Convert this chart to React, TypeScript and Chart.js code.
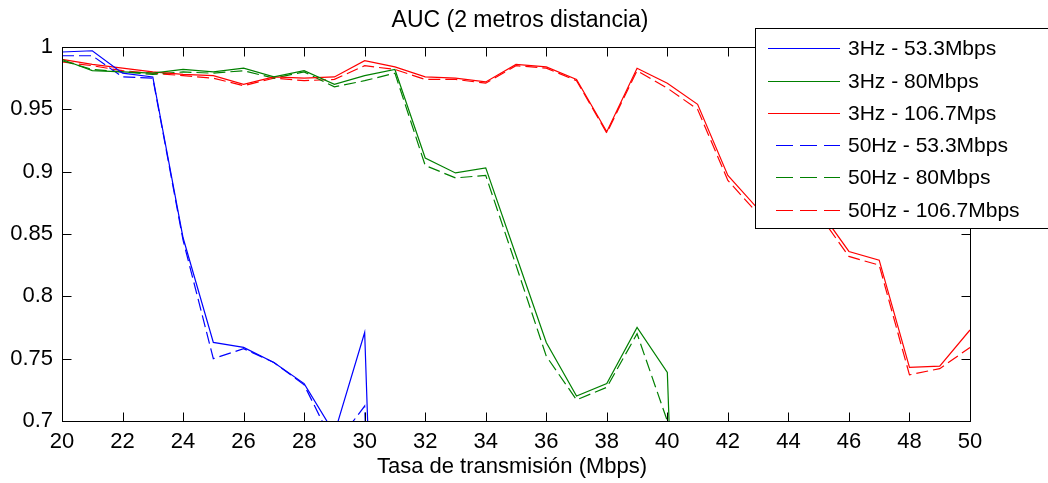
import React, { useEffect, useRef } from "react";
import { Chart, registerables } from "chart.js";

Chart.register(...registerables);

const titleText = "AUC (2 metros distancia)";
const xAxisTitle = "Tasa de transmisión (Mbps)";

const xValues = [20, 21, 22, 23, 24, 25, 26, 27, 28, 29, 30, 31, 32, 33, 34, 35, 36, 37, 38, 39, 40, 41, 42, 43, 44, 45, 46, 47, 48, 49, 50];

const xTickValues = [20, 22, 24, 26, 28, 30, 32, 34, 36, 38, 40, 42, 44, 46, 48, 50];
const xTickLabels = ["20", "22", "24", "26", "28", "30", "32", "34", "36", "38", "40", "42", "44", "46", "48", "50"];
const yTickValues = [0.7, 0.75, 0.8, 0.85, 0.9, 0.95, 1];
const yTickLabels = ["0.7", "0.75", "0.8", "0.85", "0.9", "0.95", "1"];

const seriesNames = [
  "3Hz - 53.3Mbps",
  "3Hz - 80Mbps",
  "3Hz - 106.7Mps",
  "50Hz - 53.3Mbps",
  "50Hz - 80Mbps",
  "50Hz - 106.7Mbps",
];

const blue3Hz = [0.996, 0.997, 0.979, 0.976, 0.847, 0.763, 0.759, 0.747, 0.730, 0.690, 0.771, 0.05, null, null, null, null, null, null, null, null, null, null, null, null, null, null, null, null, null, null, null];
const green3Hz = [0.990, 0.981, 0.980, 0.979, 0.982, 0.980, 0.983, 0.976, 0.981, 0.970, 0.977, 0.982, 0.911, 0.899, 0.903, 0.833, 0.763, 0.720, 0.730, 0.775, 0.739, 0.05, null, null, null, null, null, null, null, null, null];
const red3Hz = [0.990, 0.986, 0.983, 0.980, 0.978, 0.977, 0.970, 0.976, 0.975, 0.976, 0.989, 0.984, 0.976, 0.975, 0.972, 0.986, 0.984, 0.974, 0.932, 0.983, 0.971, 0.954, 0.897, 0.870, 0.862, 0.870, 0.836, 0.829, 0.743, 0.744, 0.773];
const blue50Hz = [0.993, 0.993, 0.976, 0.975, 0.845, 0.750, 0.758, 0.747, 0.729, 0.680, 0.712, 0.05, null, null, null, null, null, null, null, null, null, null, null, null, null, null, null, null, null, null, null];
const green50Hz = [0.989, 0.982, 0.980, 0.978, 0.980, 0.979, 0.981, 0.975, 0.980, 0.968, 0.973, 0.979, 0.905, 0.895, 0.897, 0.825, 0.752, 0.717, 0.727, 0.770, 0.700, 0.05, null, null, null, null, null, null, null, null, null];
const red50Hz = [0.988, 0.985, 0.981, 0.979, 0.977, 0.975, 0.969, 0.975, 0.973, 0.974, 0.985, 0.982, 0.974, 0.974, 0.971, 0.985, 0.983, 0.973, 0.931, 0.981, 0.967, 0.950, 0.893, 0.866, 0.858, 0.866, 0.832, 0.825, 0.737, 0.742, 0.759];

const seriesValues = [blue3Hz, green3Hz, red3Hz, blue50Hz, green50Hz, red50Hz];
const seriesColors = ["#0000ff", "#008000", "#ff0000", "#0000ff", "#008000", "#ff0000"];
const seriesDashed = [false, false, false, true, true, true];

const FONT = "'Liberation Sans', Arial, sans-serif";

const decorPlugin = {
  id: "decor",
  afterDraw(chart: any) {
    const { ctx, chartArea: a, scales } = chart;
    ctx.save();
    ctx.strokeStyle = "#000";
    ctx.lineWidth = 1;
    ctx.setLineDash([]);
    const L = Math.round(a.left) + 0.5;
    const R = Math.round(a.right) + 0.5;
    const T = Math.round(a.top) + 0.5;
    const B = Math.round(a.bottom) + 0.5;
    ctx.strokeRect(L, T, R - L, B - T);
    const tl = 9;
    ctx.beginPath();
    for (const v of xTickValues) {
      const px = Math.round(scales.x.getPixelForValue(v)) + 0.5;
      ctx.moveTo(px, B);
      ctx.lineTo(px, B - tl);
      ctx.moveTo(px, T);
      ctx.lineTo(px, T + tl);
    }
    for (const v of yTickValues) {
      const py = Math.round(scales.y.getPixelForValue(v)) + 0.5;
      ctx.moveTo(L, py);
      ctx.lineTo(L + tl, py);
      ctx.moveTo(R, py);
      ctx.lineTo(R - tl, py);
    }
    ctx.stroke();

    ctx.fillStyle = "#000";
    ctx.textAlign = "center";
    ctx.textBaseline = "middle";
    ctx.font = `23px ${FONT}`;
    ctx.fillText(titleText, (a.left + a.right) / 2 + 4, 21);
    ctx.font = `22px ${FONT}`;
    ctx.fillText(xAxisTitle, (a.left + a.right) / 2 - 4, 467);

    const lx = 755.5;
    const ly = 28.5;
    const lw = 320;
    const lh = 200;
    ctx.fillStyle = "#fff";
    ctx.fillRect(lx, ly, lw, lh);
    ctx.strokeStyle = "#000";
    ctx.lineWidth = 1;
    ctx.strokeRect(lx, ly, lw, lh);
    const rows = [48, 81, 113, 145, 177, 210];
    ctx.font = `21px ${FONT}`;
    ctx.textAlign = "left";
    ctx.textBaseline = "middle";
    seriesNames.forEach((name, i) => {
      const y = rows[i] + 0.5;
      ctx.strokeStyle = seriesColors[i];
      ctx.lineWidth = 1;
      ctx.beginPath();
      if (seriesDashed[i]) {
        ctx.setLineDash([17, 7]);
        ctx.moveTo(776, y);
      } else {
        ctx.setLineDash([]);
        ctx.moveTo(768, y);
      }
      ctx.lineTo(840, y);
      ctx.stroke();
      ctx.setLineDash([]);
      ctx.fillStyle = "#000";
      ctx.fillText(name, 848, rows[i] + 1);
    });
    ctx.restore();
  },
};

export default function App() {
  const canvasRef = useRef<HTMLCanvasElement | null>(null);

  useEffect(() => {
    const canvas = canvasRef.current;
    if (!canvas) return;
    const datasets = seriesNames.map((name, i) => ({
      label: name,
      data: xValues.map((x, j) => ({ x, y: seriesValues[i][j] })),
      borderColor: seriesColors[i],
      backgroundColor: seriesColors[i],
      borderWidth: 1.2,
      borderDash: seriesDashed[i] ? [12, 5] : [],
      pointRadius: 0,
      fill: false,
      tension: 0,
      spanGaps: false,
    }));
    const chart = new Chart(canvas, {
      type: "line",
      data: { datasets },
      options: {
        animation: false,
        responsive: false,
        maintainAspectRatio: false,
        layout: { padding: { top: 47, right: 78, left: 0, bottom: 0 } },
        plugins: {
          legend: { display: false },
          title: { display: false },
          tooltip: { enabled: false },
        },
        scales: {
          x: {
            type: "linear",
            min: 20,
            max: 50,
            grid: { display: false, drawTicks: false },
            border: { display: false },
            afterBuildTicks: (scale: any) => {
              scale.ticks = xTickValues.map((v) => ({ value: v }));
            },
            afterFit: (scale: any) => {
              scale.height = 62;
            },
            ticks: {
              color: "#000",
              padding: 8,
              maxRotation: 0,
              autoSkip: false,
              font: { family: FONT, size: 22 },
              callback: (v: any) => {
                const k = xTickValues.indexOf(Number(v));
                return k >= 0 ? xTickLabels[k] : "";
              },
            },
          },
          y: {
            type: "linear",
            min: 0.7,
            max: 1,
            grid: { display: false, drawTicks: false },
            border: { display: false },
            afterBuildTicks: (scale: any) => {
              scale.ticks = yTickValues.map((v) => ({ value: v }));
            },
            afterFit: (scale: any) => {
              scale.width = 62;
            },
            ticks: {
              color: "#000",
              padding: 9,
              autoSkip: false,
              font: { family: FONT, size: 22 },
              callback: (v: any) => {
                const k = yTickValues.findIndex((t) => Math.abs(t - Number(v)) < 1e-6);
                return k >= 0 ? yTickLabels[k] : "";
              },
            },
          },
        },
      },
      plugins: [decorPlugin],
    });
    return () => chart.destroy();
  }, []);

  return (
    <div style={{ position: "absolute", left: 0, top: 0, width: 1048, height: 483, background: "#fff", overflow: "hidden" }}>
      <canvas ref={canvasRef} width={1048} height={483} style={{ display: "block" }} />
    </div>
  );
}
